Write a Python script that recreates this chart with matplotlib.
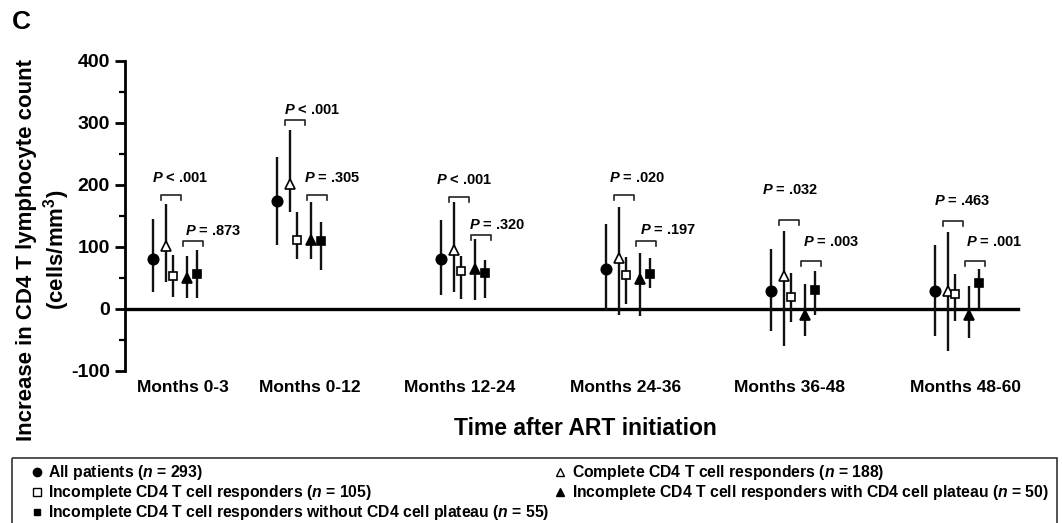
import matplotlib
matplotlib.use('Agg')
import matplotlib.pyplot as plt
from matplotlib.ticker import MultipleLocator
from matplotlib.patches import Rectangle

plt.rcParams['font.family'] = ['Liberation Sans', 'DejaVu Sans']
plt.rcParams['font.weight'] = 'bold'
plt.rcParams['axes.unicode_minus'] = False
plt.rcParams['mathtext.fontset'] = 'custom'
plt.rcParams['mathtext.it'] = 'Liberation Sans:italic:bold'
plt.rcParams['mathtext.rm'] = 'Liberation Sans:bold'
plt.rcParams['mathtext.bf'] = 'Liberation Sans:bold'

# ---- data ----
periods = ['Months 0-3', 'Months 0-12', 'Months 12-24',
           'Months 24-36', 'Months 36-48', 'Months 48-60']

group_names = ['All patients',
               'Complete CD4 T cell responders',
               'Incomplete CD4 T cell responders',
               'Incomplete CD4 T cell responders with CD4 cell plateau',
               'Incomplete CD4 T cell responders without CD4 cell plateau']
group_n = [293, 188, 105, 50, 55]

# increase in CD4 count (cells/mm3): point, lower and upper end of bar
all_mid = [80, 173, 80, 64, 28, 28]
all_lo = [26, 102, 22, -4, -36, -45]
all_hi = [144, 244, 143, 137, 96, 102]

complete_mid = [101, 201, 95, 81, 52, 28]
complete_lo = [42, 155, 27, -11, -61, -69]
complete_hi = [168, 288, 171, 164, 125, 123]

incomplete_mid = [53, 110, 60, 54, 19, 23]
incomplete_lo = [18, 80, 15, 8, -22, -20]
incomplete_hi = [87, 156, 84, 83, 58, 55]

plateau_mid = [50, 110, 63, 48, -11, -10]
plateau_lo = [17, 80, 13, -12, -45, -47]
plateau_hi = [85, 171, 112, 90, 39, 36]

noplateau_mid = [55, 109, 57, 55, 30, 41]
noplateau_lo = [17, 62, 17, 33, -11, 1]
noplateau_hi = [94, 139, 79, 81, 60, 64]

# P values: complete vs incomplete, and plateau vs no plateau
p_complete = ['< .001', '< .001', '< .001', '= .020', '= .032', '= .463']
p_plateau = ['= .873', '= .305', '= .320', '= .197', '= .003', '= .001']

# ---- layout (pixel units of the 1062x523 picture) ----
FIG_W, FIG_H = 1062, 523
X0, X1 = 125, 1045          # left spine .. right end of axes
Y_TOP, Y_BOT = 60.5, 370.5  # rows of 400 and -100
group_x = [175, 299, 463, 628, 793, 957]
label_x = [183, 310, 460, 626, 790, 966]
series_dx = [-22, -9, -2, 11.5, 21.5]
bracket_half = 10
bracket1_y = [183, 304, 180, 183, 143, 141]
bracket2_y = [109, 183, 118, 109, 76, 76]
ptext1 = [(180, 211), (312, 320), (464, 208), (637, 211), (790, 191), (962, 173)]
ptext2 = [(213, 125), (332, 211), (497, 135), (668, 126), (831, 107), (994, 107)]

series = [
    (all_mid, all_lo, all_hi, dict(marker='o', ms=7.5, mfc='black')),
    (complete_mid, complete_lo, complete_hi, dict(marker='^', ms=7.2, mfc='white')),
    (incomplete_mid, incomplete_lo, incomplete_hi, dict(marker='s', ms=6.4, mfc='white')),
    (plateau_mid, plateau_lo, plateau_hi, dict(marker='^', ms=7.2, mfc='black')),
    (noplateau_mid, noplateau_lo, noplateau_hi, dict(marker='s', ms=6.2, mfc='black')),
]

fig = plt.figure(figsize=(FIG_W / 100, FIG_H / 100), dpi=100)
ax = fig.add_axes([X0 / FIG_W, 1 - Y_BOT / FIG_H,
                   (X1 - X0) / FIG_W, (Y_BOT - Y_TOP) / FIG_H])

for k, (mid, lo, hi, style) in enumerate(series):
    xs = [gx + series_dx[k] for gx in group_x]
    yerr = [[m - l for m, l in zip(mid, lo)], [h - m for m, h in zip(mid, hi)]]
    ax.errorbar(xs, mid, yerr=yerr, fmt='none', ecolor='#111111',
                elinewidth=1.7, capsize=0, zorder=2)
    ax.plot(xs, mid, ls='none', mec='black', mew=1.2, zorder=3, **style)

# brackets + P labels
for i in range(len(periods)):
    pairs = [(1, 2, bracket1_y[i], ptext1[i], p_complete[i]),
             (3, 4, bracket2_y[i], ptext2[i], p_plateau[i])]
    for a, b, by, (tx, ty), p in pairs:
        cx = group_x[i] + (series_dx[a] + series_dx[b]) / 2 + 1
        ax.plot([cx - bracket_half, cx - bracket_half, cx + bracket_half, cx + bracket_half],
                [by - 8, by, by, by - 8], color='#222222', lw=1.2, zorder=2)
        ax.text(tx, ty, '$P$ ' + p, ha='center', va='center', fontsize=10.5,
                fontweight='bold')

ax.axhline(0, xmin=0, xmax=(1018 - X0) / (X1 - X0), color='black', lw=2.4, zorder=1)

ax.set_xlim(X0, X1)
ax.set_ylim(-100, 400)
ax.set_yticks(range(-100, 401, 100))
ax.yaxis.set_minor_locator(MultipleLocator(50))
ax.tick_params(axis='y', which='major', length=7, width=2, labelsize=14, pad=4)
ax.tick_params(axis='y', which='minor', length=4.5, width=1.6)
ax.set_xticks(label_x, periods)
ax.tick_params(axis='x', length=0, labelsize=12.5, pad=7)
for name in ['top', 'right', 'bottom']:
    ax.spines[name].set_visible(False)
ax.spines['left'].set_linewidth(2)
ax.set_xlabel('Time after ART initiation', fontsize=16.5, fontweight='bold', labelpad=16)

# overlay in pixel units for panel letter, y label and legend box
lay = fig.add_axes([0, 0, 1, 1], facecolor='none')
lay.set_xlim(0, FIG_W)
lay.set_ylim(FIG_H, 0)
lay.axis('off')

lay.text(21, 22, 'C', fontsize=19, fontweight='bold', ha='center', va='center')
lay.text(44, 250, 'Increase in CD4 T lymphocyte count\n(cells/mm$^{3}$)',
         rotation=90, ha='center', va='center', multialignment='center',
         fontsize=16, fontweight='bold', linespacing=1.15)

lay.add_patch(Rectangle((11.7, 458.3), 1057 - 11.7, 80, fill=False,
                        ec='#333333', lw=1.2, clip_on=False))

legend_pos = [(36.7, 472), (560, 472), (36.7, 492), (560, 492), (36.7, 512)]
legend_mk = [dict(marker='o', ms=6, mfc='black'),
             dict(marker='^', ms=6, mfc='white'),
             dict(marker='s', ms=5.2, mfc='white'),
             dict(marker='^', ms=6, mfc='black'),
             dict(marker='s', ms=5, mfc='black')]
for k, (lx, ly) in enumerate(legend_pos):
    lay.plot([lx], [ly], ls='none', mec='black', mew=1, **legend_mk[k])
    lay.text(lx + 11.5, ly, f'{group_names[k]} ($n$ = {group_n[k]})',
             ha='left', va='center', fontsize=11.3, fontweight='bold')

fig.savefig('out.png', dpi=100)
